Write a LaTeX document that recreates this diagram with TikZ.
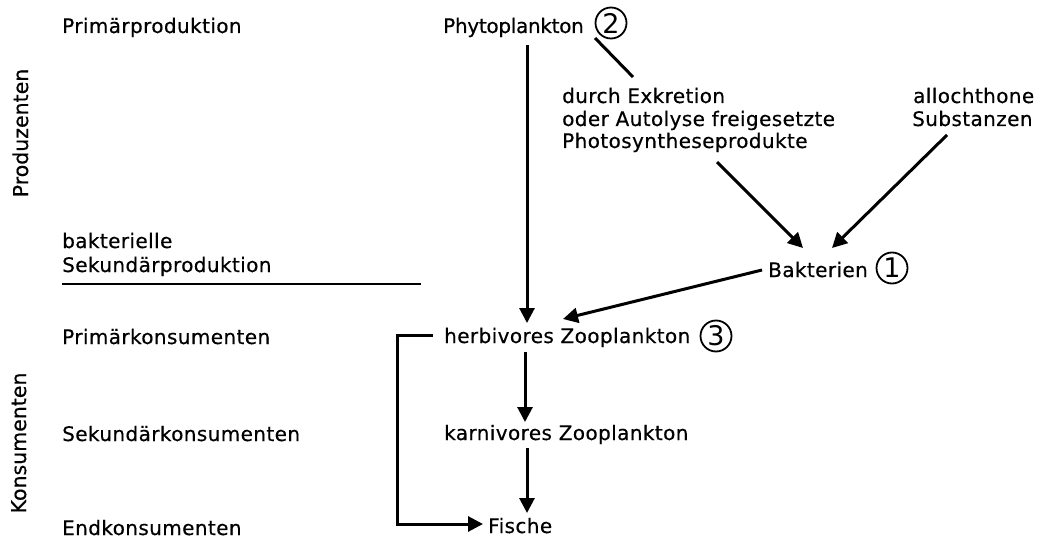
\documentclass[tikz,border=0pt]{standalone}
\usepackage{fontspec}
\setmainfont{DejaVu Sans}
\newfontfamily\lblfont{DejaVu Sans}[LetterSpace=2,FakeBold=0.5]
\newfontfamily\tightfont{DejaVu Sans}[LetterSpace=-1.5,FakeBold=0.5]
\newfontfamily\sidefont{DejaVu Sans}[FakeBold=0.5]
\usetikzlibrary{arrows.meta,calc}
\begin{document}
\begin{tikzpicture}[x=1pt,y=-1pt,
 txt/.style={anchor=base west,inner sep=0pt,font=\lblfont\fontsize{20}{24}\selectfont},
 side/.style={anchor=base,inner sep=0pt,rotate=90,font=\sidefont\fontsize{20.5}{24}\selectfont},
 num/.style={circle,draw,line width=1.8pt,minimum size=31pt,inner sep=0pt,font=\fontsize{27}{28}\selectfont},
 arr/.style={line width=3pt,-{Triangle[length=15pt,width=15pt]}},
 ln/.style={line width=3pt},
 rule/.style={line width=2pt}]
\useasboundingbox (0,0) rectangle (1048,540);
% left column
\node[txt] (pp) at (62,33) {Primärproduktion};
\node[txt] (bs1) at (62,248) {bakterielle};
\node[txt] (bs2) at (62,272) {Sekundärproduktion};
\node[txt] (pk) at (62,344) {Primärkonsumenten};
\node[txt] (sk) at (62,441) {Sekundärkonsumenten};
\node[txt] (ek) at (62,535) {Endkonsumenten};
\node[side] (prod) at (28,133) {Produzenten};
\node[side] (kons) at (26,443) {Konsumenten};
\draw[rule] ($(bs2.base west)+(0,12)$) -- ++(359,0);
% food web
\node[txt,font=\tightfont\fontsize{20}{24}\selectfont] (phy) at (443,33) {Phytoplankton};
\node[num] (n2) at (611,23) {2};
\node[txt] (ex1) at (562,103) {durch Exkretion};
\node[txt] (ex2) at (562,126) {oder Autolyse freigesetzte};
\node[txt] (ex3) at (562,148) {Photosyntheseprodukte};
\node[txt] (al1) at (913,103) {allochthone};
\node[txt] (al2) at (912,126) {Substanzen};
\node[txt] (bak) at (768,277) {Bakterien};
\node[num] (n1) at (892,268) {1};
\node[txt] (herb) at (444,343) {herbivores Zooplankton};
\node[num] (n3) at (716,336) {3};
\node[txt] (karn) at (444,440) {karnivores Zooplankton};
\node[txt] (fis) at (488,533) {Fische};
% connectors
\draw[ln] ($(phy.base west)+(152,5)$) -- ($(ex1.base west)+(71,-26)$);
\draw[arr] ($(phy.base west)+(84,12)$) -- ($(herb.base west)+(83,-20)$);
\draw[arr] ($(ex3.base west)+(155,14)$) -- ($(bak.base west)+(35,-29)$);
\draw[arr] ($(al2.base west)+(35,9)$) -- ($(bak.base west)+(64,-29)$);
\draw[arr] ($(bak.base west)+(-6,-7)$) -- ($(herb.base west)+(119,-24)$);
\draw[arr] ($(herb.base west)+(81,9)$) -- ($(karn.base west)+(81,-18)$);
\draw[arr] ($(karn.base west)+(83,8)$) -- ($(fis.base west)+(39,-20)$);
\draw[arr] ($(herb.base west)+(-11,-8)$) -| ($(fis.base west)+(-91,-9)$) -- ($(fis.base west)+(-5,-9)$);
\end{tikzpicture}
\end{document}
